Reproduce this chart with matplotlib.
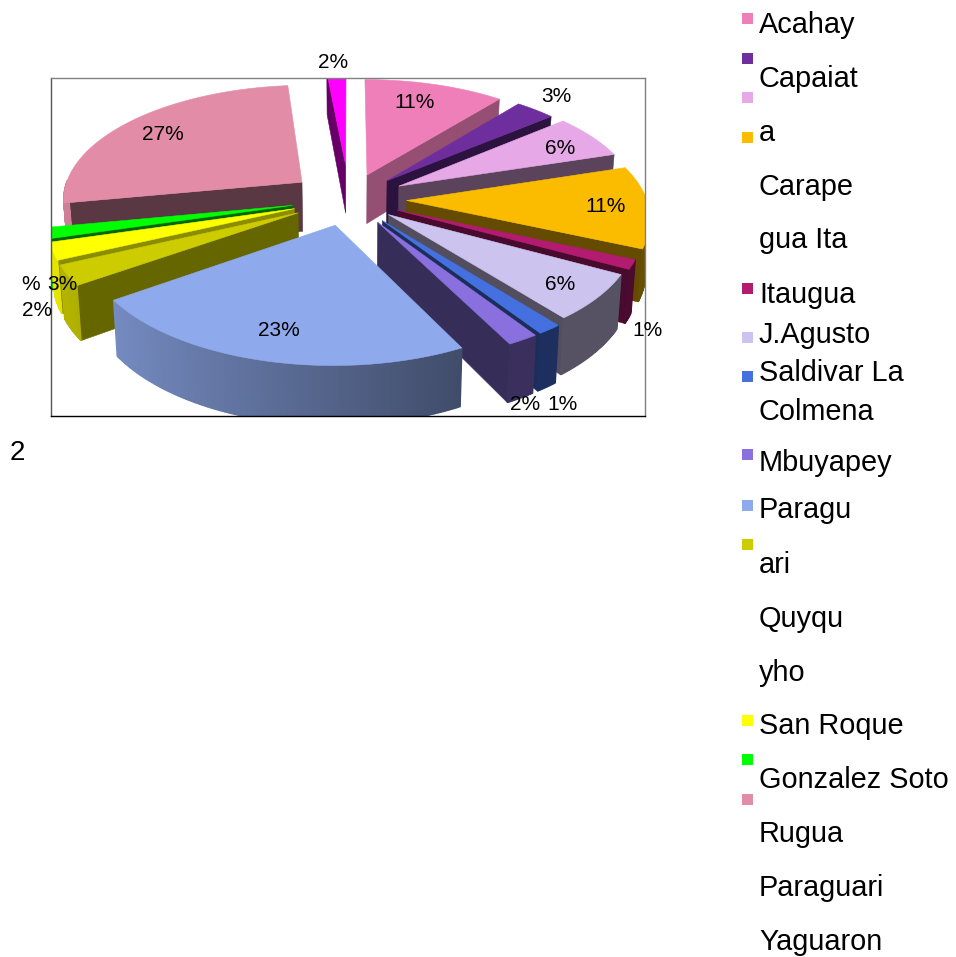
import numpy as np
import matplotlib
matplotlib.use("Agg")
import matplotlib.pyplot as plt
from matplotlib.patches import Rectangle

plt.rcParams['font.family'] = ['Liberation Sans', 'DejaVu Sans']

# datos (sentido horario desde arriba)
distritos = ["Acahay", "Capaiata", "Carapegua", "Ita", "Itaugua", "J.Agusto Saldivar",
             "La Colmena", "Mbuyapey", "Paraguari", "Quyquyho", "San Roque",
             "Gonzalez Soto", "Rugua", "Yaguaron"]
porcentajes = [10.9, 3.1, 6.2, 11.4, 1.3, 6.4, 1.4, 1.8, 22.9, 2.8, 2.4, 1.5, 26.5, 1.5]
etiquetas = ["11%", "3%", "6%", "11%", "1%", "6%", "1%", "2%", "23%", "3%", "2%", "%", "27%", "2%"]
leyenda_textos = ["Acahay", "Capaiat", "a", "Carape", "gua Ita", "Itaugua", "J.Agusto",
                  "Saldivar La", "Colmena", "Mbuyapey", "Paragu", "ari", "Quyqu", "yho",
                  "San Roque", "Gonzalez Soto", "Rugua", "Paraguari", "Yaguaron"]

# estilo
colores = ["#EE7FB8", "#6E2E9E", "#E6A8E6", "#FBBC00", "#B31B70", "#CCC4EE", "#4571E0",
           "#8A70DE", "#8FAAEC", "#CCCC00", "#FFFF00", "#00FF00", "#E28CA8", "#FF00FF"]
explosion = [0.23, 0.23, 0.24, 0.24, 0.22, 0.21, 0.23, 0.23, 0.23, 0.24, 0.24, 0.24, 0.25, 0.31]
sombra_corte = [0.62, 0.40, 0.40, 0.40, 0.40, 0.40, 0.40, 0.40, 0.40, 0.50, 0.55, 0.40, 0.40, 0.40]
pos_etiquetas = [(415, 102), (556, 96), (560, 148), (606, 206), (648, 331), (560, 285),
                 (563, 404), (525, 404), (279, 331), (62, 285), (37, 311), (31, 285),
                 (163, 134), (333, 62)]
y_texto_leyenda = [33, 87, 141, 195, 248, 303, 343, 381, 420, 471, 518, 573, 627, 681,
                   734, 788, 842, 896, 950]
y_marca_leyenda = [18, 58, 97, 137, 288, 337, 376, 454, 505, 544, 720, 759, 799]

CX, CY = 349, 199
RX, RY = 240, 114
PERSP = 0.133
ALTO = 50
MARCO = (51, 78, 594, 338)


def proyectar(x, y):
    w = 1 + PERSP * y
    return CX + RX * x / w, CY - RY * y / w


def base(px, py, y):
    # la cara inferior baja y converge un poco por la perspectiva
    return CX + (px - CX) * 0.985, py + ALTO / (1 + PERSP * y)


def sombra(color, f):
    return tuple(c * f for c in matplotlib.colors.to_rgb(color))


fig = plt.figure(figsize=(9.56, 9.57), dpi=100)
ax = fig.add_axes([0, 0, 1, 1])
ax.set_xlim(0, 956)
ax.set_ylim(957, 0)
ax.axis("off")

marco = Rectangle(MARCO[:2], MARCO[2], MARCO[3], transform=ax.transData, fill=False, lw=0)
ax.add_patch(marco)


def poligono(xs, ys, color, z, lw=0.4):
    p = ax.fill(xs, ys, color=color, lw=lw, zorder=z)[0]
    p.set_clip_path(marco)


total = sum(porcentajes)
limites = np.cumsum([0] + porcentajes) / total * 2 * np.pi
medios = (limites[:-1] + limites[1:]) / 2
orden = np.argsort(-np.cos(medios))

for z, i in enumerate(orden):
    t0, t1 = limites[i], limites[i + 1]
    ox = explosion[i] * np.sin(medios[i])
    oy = explosion[i] * np.cos(medios[i])
    ts = np.linspace(t0, t1, max(int(np.degrees(t1 - t0)) * 2, 3))
    wx = ox + np.sin(ts)
    wy = oy + np.cos(ts)
    ax0, ay0 = proyectar(ox, oy)
    ax1, ay1 = base(ax0, ay0, oy)

    # paredes de corte que miran al frente
    for t, visible in ((t0, np.sin(t0) < 0), (t1, np.sin(t1) > 0)):
        if visible:
            ex, ey = proyectar(ox + np.sin(t), oy + np.cos(t))
            fx, fy = base(ex, ey, oy + np.cos(t))
            poligono([ax0, ex, fx, ax1], [ay0, ey, fy, ay1], sombra(colores[i], sombra_corte[i]), z * 3)

    # borde curvo con degradado de izquierda a derecha
    for k in range(len(ts) - 1):
        if np.cos((ts[k] + ts[k + 1]) / 2) > 0.02:
            continue
        ax_a, ay_a = proyectar(wx[k], wy[k])
        ax_b, ay_b = proyectar(wx[k + 1], wy[k + 1])
        bx_a, by_a = base(ax_a, ay_a, wy[k])
        bx_b, by_b = base(ax_b, ay_b, wy[k + 1])
        f = max(0.42, 0.563 - 0.287 * wx[k])
        c = sombra(colores[i], f)
        poligono([ax_a, ax_b, bx_b, bx_a], [ay_a, ay_b, by_b, by_a], c, z * 3 + 1, lw=1.0)

    # cara superior
    sx, sy = proyectar(wx, wy)
    poligono(np.r_[ax0, sx], np.r_[ay0, sy], colores[i], z * 3 + 2)

# marco del area de trazado
x0, y0, ancho, alto = MARCO
ax.plot([x0, x0], [y0, y0 + alto], color="#555555", lw=1, zorder=100)
ax.plot([x0, x0 + ancho], [y0, y0], color="#808080", lw=1, zorder=100)
ax.plot([x0 + ancho, x0 + ancho], [y0, y0 + alto], color="#808080", lw=1, zorder=100)
ax.plot([x0, x0 + ancho], [y0 + alto, y0 + alto], color="#000000", lw=1, zorder=100)

for texto, (x, y) in zip(etiquetas, pos_etiquetas):
    ax.text(x, y, texto, fontsize=15, ha="center", va="center", color="black", zorder=110)

ax.text(10, 460, "2", fontsize=20, ha="left", va="baseline", color="black")

# leyenda
for texto, y in zip(leyenda_textos, y_texto_leyenda):
    ax.text(759, y, texto, fontsize=20.8, ha="left", va="baseline", color="black")
for color, y in zip(colores, y_marca_leyenda):
    ax.add_patch(Rectangle((742.5, y - 5.5), 11, 11, facecolor=color, edgecolor="none"))

fig.savefig("out.png", dpi=100)
